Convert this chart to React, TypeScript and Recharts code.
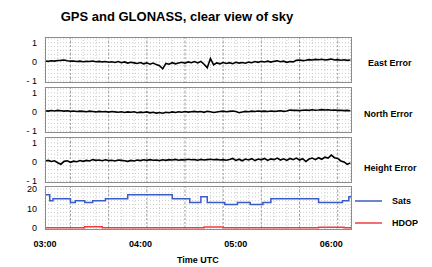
import { LineChart, Line, XAxis, YAxis, CartesianGrid, Legend } from 'recharts';

const FONT = '"Liberation Sans", Arial, sans-serif';

// minutes after 03:00 UTC
const errTimes = [
  0, 2, 4, 6, 8, 10, 12, 14, 16, 18,
  20, 22, 24, 26, 28, 30, 32, 34, 36, 38,
  40, 42, 44, 46, 48, 50, 52, 54, 56, 58,
  60, 62, 64, 66, 68, 70, 72, 74, 76, 78,
  80, 82, 84, 86, 88, 90, 92, 94, 96, 98,
  100, 102, 104, 106, 108, 110, 112, 114, 116, 118,
  120, 122, 124, 126, 128, 130, 132, 134, 136, 138,
  140, 142, 144, 146, 148, 150, 152, 154, 156, 158,
  160, 162, 164, 166, 168, 170, 172, 174, 176, 178,
  180, 182, 184, 186, 188, 190, 192,
];

const eastError = [
  0.05, 0.03, 0.06, 0.04, 0.07, 0.08, 0.1, 0.06, 0.04, 0.05,
  0.02, 0.04, 0.01, 0.03, 0.02, 0.05, 0.01, 0.03, 0.0, 0.02,
  -0.02, 0.01, -0.03, 0.02, -0.04, 0.0, -0.06, -0.02, -0.05, -0.08,
  -0.03, -0.1, -0.05, -0.12, -0.06, -0.14, -0.2, -0.36, -0.08, -0.12,
  -0.04, -0.1, -0.06, -0.02, -0.07, 0.0, -0.04, 0.02, -0.05, 0.03,
  -0.12, -0.3, 0.18, -0.15, -0.05, -0.1, -0.03, -0.08, -0.04, -0.09,
  -0.02, -0.06, -0.03, -0.07, -0.01, -0.04, 0.02, -0.02, 0.03, 0.0,
  0.04, -0.01, 0.03, 0.06, 0.01, 0.04, -0.02, 0.02, 0.0, 0.08,
  0.1, 0.07, 0.09, 0.12, 0.1, 0.13, 0.11, 0.14, 0.1, 0.12,
  0.15, 0.1, 0.12, 0.09, 0.11, 0.08, 0.1,
];

const northError = [
  0.06, 0.04, 0.07, 0.05, 0.08, 0.06, 0.04, 0.06, 0.03, 0.05,
  0.02, 0.04, 0.03, 0.01, 0.04, 0.02, 0.0, 0.03, 0.01, 0.02,
  -0.01, 0.02, 0.0, -0.02, 0.01, -0.03, 0.0, -0.02, 0.01, -0.04,
  -0.01, -0.03, 0.0, -0.05, -0.02, -0.06, -0.03, -0.07, -0.02, -0.04,
  0.0, -0.03, 0.01, -0.02, 0.02, -0.01, 0.01, 0.03, 0.0, 0.02,
  -0.02, 0.03, 0.01, -0.03, 0.0, 0.02, 0.04, 0.01, 0.03, 0.05,
  0.02, -0.04, 0.0, 0.03, 0.01, 0.04, 0.02, 0.05, 0.03, 0.04,
  0.02, 0.05, 0.03, 0.04, 0.06, 0.03, 0.05, 0.1, 0.08, 0.09,
  0.07, 0.09, 0.1, 0.08, 0.11, 0.09, 0.1, 0.12, 0.1, 0.11,
  0.09, 0.1, 0.08, 0.09, 0.07, 0.08, 0.06,
];

const heightError = [
  0.05, 0.08, 0.02, 0.06, -0.04, -0.12, 0.03, 0.06, -0.02, 0.04,
  0.01, 0.07, 0.03, 0.08, 0.05, 0.12, 0.08, 0.1, 0.06, 0.11,
  0.07, 0.09, 0.05, 0.1, 0.08, 0.06, 0.03, 0.08, 0.05, 0.1,
  0.07, 0.11, 0.08, 0.12, 0.09, 0.1, 0.07, 0.11, 0.08, 0.12,
  0.1, 0.13, 0.09, 0.12, 0.1, 0.14, 0.11, 0.12, 0.09, 0.13,
  0.1, 0.12, 0.14, 0.11, 0.13, 0.1, 0.12, 0.09, 0.13, 0.18,
  0.08, 0.14, 0.06, 0.15, 0.1, 0.17, 0.07, 0.15, 0.11, 0.18,
  0.08, 0.16, 0.12, 0.2, 0.1, 0.16, 0.08, 0.18, 0.12, 0.2,
  0.1, 0.17, 0.02, 0.15, 0.2, 0.12, 0.22, 0.14, 0.25, 0.2,
  0.36, 0.22, 0.18, 0.05, 0.0, -0.13, -0.05,
];

// step changes (minutes after 03:00)
const satTimes = [0, 3, 5, 16, 19, 25, 30, 38, 52, 80, 91, 98, 102, 113, 121, 129, 137, 142, 172, 187, 191, 193];
const satCounts = [17, 14, 15, 13, 14, 13, 14, 15, 17, 15, 13, 16, 13, 12, 13, 12, 13, 15, 13, 14, 16, 16];

const hdopTimes = [0, 25, 36, 100, 112, 172, 188, 193];
const hdopValues = [0.1, 0.6, 0.1, 0.5, 0.1, 0.4, 0.1, 0.1];

const timeTicks = [0, 60, 120, 180];
const timeLabels = ['03:00', '04:00', '05:00', '06:00'];
const gridMinutes = [0, 8, 16, 24, 32, 40, 48, 56, 64, 72, 80, 88, 96, 104, 112, 120, 128, 136, 144, 152, 160, 168, 176, 184, 192];
const majorMinutes = [16, 40, 64, 88, 112, 136, 160, 184];

const errTicks = [-1, 0, 1];
const errGrid = [-1, -0.8, -0.6, -0.4, -0.2, 0, 0.2, 0.4, 0.6, 0.8, 1, 1.2];
const satTicks = [0, 10, 20];
const satGrid = [0, 2, 4, 6, 8, 10, 12, 14, 16, 18, 20];

const errorRows = errTimes.map((t, i) => ({
  t,
  east: eastError[i],
  north: northError[i],
  height: heightError[i],
}));

// one table for the bottom panel; gaps are bridged by connectNulls on step lines
const stepTimes = Array.from(new Set([...satTimes, ...hdopTimes])).sort((a, b) => a - b);
const stepRows = stepTimes.map((t) => {
  const si = satTimes.indexOf(t);
  const hi = hdopTimes.indexOf(t);
  return { t, sats: si >= 0 ? satCounts[si] : null, hdop: hi >= 0 ? hdopValues[hi] : null };
});

const W = 432;
const MARGIN = { top: 0, right: 80, bottom: 0, left: 0 };
const tickStyle = { fill: '#000', fontSize: 9, fontFamily: FONT };

const fmtErr = (v: number) => (v < 0 ? `- ${Math.abs(v)}` : String(v));

const panels = [
  { key: 'east', top: 37, label: 'East Error', lx: 368, ly: 63 },
  { key: 'north', top: 87, label: 'North Error', lx: 364, ly: 114 },
  { key: 'height', top: 137, label: 'Height Error', lx: 364, ly: 168 },
];

function ErrorPanel({ dataKey, top }: { dataKey: string; top: number }) {
  return (
    <div style={{ position: 'absolute', left: 0, top }}>
      <LineChart width={W} height={46} data={errorRows} margin={MARGIN}>
        <XAxis dataKey="t" type="number" domain={[0, 193]} hide interval={0} allowDataOverflow />
        <YAxis
          type="number"
          domain={[-1.1, 1.3]}
          ticks={errTicks}
          interval={0}
          width={45}
          axisLine={false}
          tickLine={false}
          tick={tickStyle}
          tickFormatter={fmtErr}
          allowDataOverflow
        />
        <CartesianGrid verticalValues={gridMinutes} horizontalValues={errGrid} stroke="#cdcdcd" strokeDasharray="1 2" />
        <CartesianGrid verticalValues={majorMinutes} horizontal={false} stroke="#a0a0a0" strokeDasharray="2 2" />
        <Line type="linear" dataKey={dataKey} stroke="#000" strokeWidth={1.6} dot={false} isAnimationActive={false} />
      </LineChart>
    </div>
  );
}

function PanelLegend({ payload }: any) {
  const order = ['Sats', 'HDOP'];
  const items = order.map((n) => (payload || []).find((p: any) => p.value === n)).filter(Boolean);
  return (
    <svg width={75} height={40}>
      {items.map((p: any, i: number) => (
        <g key={p.value}>
          <line x1={0} x2={27} y1={11 + i * 22} y2={11 + i * 22} stroke={p.color} strokeWidth={1.5} />
          <text x={37} y={11 + i * 22} dominantBaseline="central" fontSize={9} fontWeight="bold" fontFamily={FONT} fill="#000">
            {p.value}
          </text>
        </g>
      ))}
    </svg>
  );
}

function SatsPanel() {
  return (
    <div style={{ position: 'absolute', left: 0, top: 186 }}>
      <LineChart width={W} height={74} data={stepRows} margin={MARGIN}>
        <XAxis
          dataKey="t"
          type="number"
          domain={[0, 193]}
          ticks={timeTicks}
          interval={0}
          height={30}
          axisLine={false}
          tickLine={false}
          tickMargin={5}
          tick={{ ...tickStyle, fontWeight: 'bold' }}
          tickFormatter={(v: number) => timeLabels[timeTicks.indexOf(v)]}
          allowDataOverflow
        />
        <YAxis
          type="number"
          domain={[-1, 21.5]}
          ticks={satTicks}
          interval={0}
          width={45}
          axisLine={false}
          tickLine={false}
          tick={tickStyle}
          allowDataOverflow
        />
        <CartesianGrid verticalValues={gridMinutes} horizontalValues={satGrid} stroke="#cdcdcd" strokeDasharray="1 2" />
        <CartesianGrid verticalValues={majorMinutes} horizontal={false} stroke="#a0a0a0" strokeDasharray="2 2" />
        <Legend
          content={<PanelLegend />}
          layout="vertical"
          align="center"
          verticalAlign="middle"
          wrapperStyle={{ left: 355, top: 4, width: 75, height: 40 }}
        />
        <Line type="stepAfter" dataKey="sats" name="Sats" stroke="#3b5cc4" strokeWidth={1.5} dot={false} connectNulls isAnimationActive={false} />
        <Line type="stepAfter" dataKey="hdop" name="HDOP" stroke="#f23c3c" strokeWidth={1.5} dot={false} connectNulls isAnimationActive={false} />
      </LineChart>
    </div>
  );
}

export default function App() {
  return (
    <div style={{ position: 'absolute', left: 0, top: 0, width: W, height: 267, background: '#fff', overflow: 'hidden' }}>
      <style>{'.recharts-surface { overflow: visible; }'}</style>
      {panels.map((p) => (
        <ErrorPanel key={p.key} dataKey={p.key} top={p.top} />
      ))}
      <SatsPanel />
      <svg width={W} height={267} style={{ position: 'absolute', left: 0, top: 0, pointerEvents: 'none' }}>
        <text x={177} y={21} textAnchor="middle" fontSize={13} fontWeight="bold" fontFamily={FONT} fill="#000">
          GPS and GLONASS, clear view of sky
        </text>
        {panels.map((p) => (
          <g key={p.key}>
            <rect x={45.5} y={p.top + 0.5} width={306} height={45} fill="none" stroke="#8c8c8c" />
            <text x={p.lx} y={p.ly} dominantBaseline="central" fontSize={9} fontWeight="bold" fontFamily={FONT} fill="#000">
              {p.label}
            </text>
          </g>
        ))}
        <rect x={45.5} y={186.5} width={306} height={43} fill="none" stroke="#8c8c8c" />
        <text x={177} y={263} fontSize={9} fontWeight="bold" fontFamily={FONT} fill="#000">
          Time UTC
        </text>
      </svg>
    </div>
  );
}
